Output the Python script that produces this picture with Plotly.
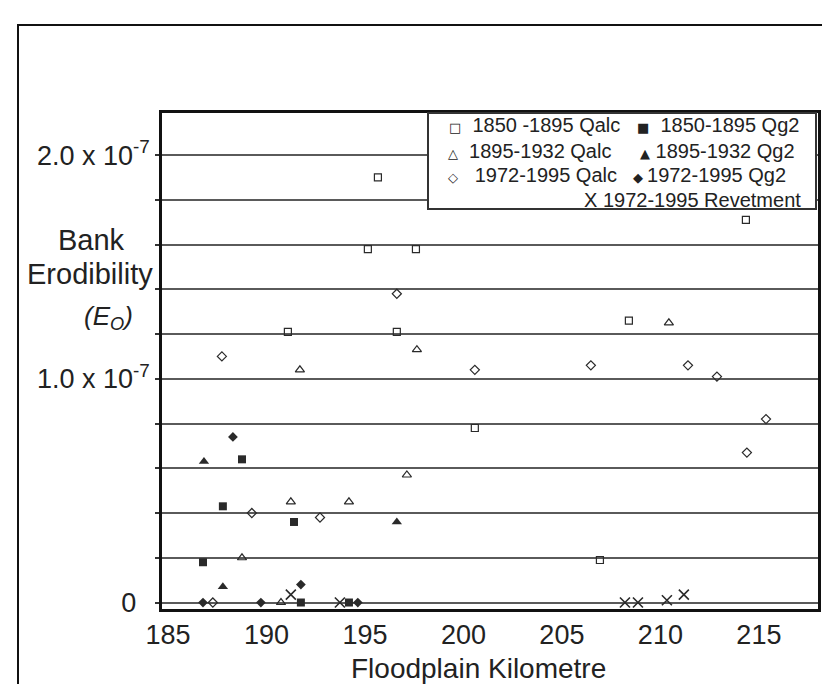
import plotly.graph_objects as go

# ---------------- data (Floodplain km, bank erodibility Eo) ----------------
km_1850_qalc = [195.66, 195.15, 197.59, 191.09, 196.62, 200.58, 206.93, 208.40, 214.34]
eo_1850_qalc = [1.90e-7, 1.58e-7, 1.58e-7, 1.21e-7, 1.21e-7, 0.78e-7, 0.19e-7, 1.26e-7, 1.71e-7]

km_1850_qg2 = [188.76, 187.79, 191.40, 186.78, 191.75, 194.19]
eo_1850_qg2 = [0.64e-7, 0.43e-7, 0.36e-7, 0.18e-7, 0.0, 0.0]

km_1895_qalc = [191.70, 197.64, 197.13, 191.24, 194.19, 188.76, 190.74, 210.43]
eo_1895_qalc = [1.04e-7, 1.13e-7, 0.57e-7, 0.45e-7, 0.45e-7, 0.20e-7, 0.0, 1.25e-7]

km_1895_qg2 = [186.83, 196.62, 187.79]
eo_1895_qg2 = [0.63e-7, 0.36e-7, 0.07e-7]

km_1972_qalc = [187.74, 196.62, 200.58, 206.47, 211.40, 212.87, 215.36, 214.39, 189.26, 192.72, 187.28]
eo_1972_qalc = [1.10e-7, 1.38e-7, 1.04e-7, 1.06e-7, 1.06e-7, 1.01e-7, 0.82e-7, 0.67e-7, 0.40e-7, 0.38e-7, 0.0]

km_1972_qg2 = [188.30, 191.75, 186.78, 189.72, 194.64]
eo_1972_qg2 = [0.74e-7, 0.08e-7, 0.0, 0.0, 0.0]

km_1972_rev = [191.24, 193.73, 208.20, 208.86, 210.33, 211.19]
eo_1972_rev = [0.035e-7, 0.0, 0.0, 0.0, 0.01e-7, 0.035e-7]

x_ticks = [185, 190, 195, 200, 205, 210, 215]
y_ticks = [0.0, 1.0e-7, 2.0e-7]
y_ticktext = ["0\u2002", "1.0 x 10<sup>-7</sup>", "2.0 x 10<sup>-7</sup>"]
y_grid_step = 0.2e-7

legend_col1 = ["1850 -1895 Qalc", "1895-1932 Qalc", "1972-1995 Qalc"]
legend_col2 = ["1850-1895 Qg2", "1895-1932 Qg2", "1972-1995 Qg2"]
legend_rev = "1972-1995 Revetment"

# ---------------- layout geometry ----------------
W, H = 830, 684
L, R, T, B = 154, 20, 105, 83
PW, PH = W - L - R, H - T - B

def xp(px):
    return (px - L) / PW

def yp(py):
    return (H - B - py) / PH

FONT = "Liberation Sans, Arial, Helvetica, sans-serif"
INK = "#222222"
MK = "#2a2a2a"
GRID = "#5a5a5a"

fig = go.Figure()

def add(xs, ys, symbol, size, lw=1.2):
    fig.add_trace(go.Scatter(
        x=xs, y=ys, mode="markers", showlegend=False, hoverinfo="x+y",
        marker=dict(symbol=symbol, size=size, color=MK,
                    line=dict(color=MK, width=lw)),
    ))

add(km_1850_qalc, eo_1850_qalc, "square-open", 7)
add(km_1850_qg2, eo_1850_qg2, "square", 8, 0)
add(km_1895_qalc, eo_1895_qalc, "triangle-up-open", 8)
add(km_1895_qg2, eo_1895_qg2, "triangle-up", 9, 0)
add(km_1972_qalc, eo_1972_qalc, "diamond-open", 7)
add(km_1972_qg2, eo_1972_qg2, "diamond", 7.5, 0)
add(km_1972_rev, eo_1972_rev, "x-thin-open", 10, 1.6)

fig.update_xaxes(
    range=[184.7, 218.0], tickvals=x_ticks, ticks="", showgrid=False,
    zeroline=False, showline=True, mirror=True, linecolor="#111", linewidth=2.5,
    tickfont=dict(family=FONT, size=27, color=INK),
)
fig.update_yaxes(
    range=[-0.029e-7, 2.188e-7], tickvals=y_ticks, ticktext=y_ticktext,
    ticks="outside", ticklen=4, tickwidth=1.5, tickcolor="#333",
    showgrid=True, gridcolor=GRID, gridwidth=1.6,
    minor=dict(tick0=0, dtick=y_grid_step, showgrid=True, gridcolor=GRID,
               gridwidth=1.6, ticks="outside", ticklen=4, tickwidth=1.5,
               tickcolor="#333"),
    zeroline=True, zerolinecolor="rgba(0,0,0,0)",
    showline=True, mirror=True, linecolor="#111", linewidth=2.5,
    tickfont=dict(family=FONT, size=27, color=INK),
)

shapes = []
# legend box
shapes.append(dict(type="rect", xref="paper", yref="paper", layer="above",
                   x0=xp(420), x1=xp(808), y0=yp(201), y1=yp(105),
                   fillcolor="white", line=dict(color="#333", width=2)))
# outer picture frame
shapes.append(dict(type="path", xref="paper", yref="paper", layer="above",
                   path=f"M {xp(10)},{yp(684)} L {xp(10)},{yp(17)} L {xp(830)},{yp(17)}",
                   line=dict(color="#111", width=2)))

ann = []
def text(s, px, py, size, anchor="center"):
    ann.append(dict(text=s, x=xp(px), y=yp(py), xref="paper", yref="paper",
                    xanchor=anchor, yanchor="middle", showarrow=False,
                    font=dict(family=FONT, size=size, color=INK)))

# axis titles
text("Floodplain Kilometre", 470, 660, 28)
text("Bank", 83, 232, 29)
text("Erodibility", 82, 266, 29)
text("<i>(E<sub>O</sub>)</i>", 100, 309, 26)

# legend entries (symbol glyph + label in one text)
def sym(ch):
    return f"<span style='font-family:DejaVu Sans;font-size:13px'>{ch}</span>"

NB = "\u00a0"
rows = [117, 143, 167]
sym1 = ["\u25a1", "\u25b3", "\u25c7"]
sym2 = ["\u25a0", "\u25b2", "\u25c6"]
left1 = [439, 438, 438]
left2 = [627, 630, 623]
gap1 = [NB * 2, NB * 2, NB * 3]
gap2 = [NB * 2, NB, "\u2009"]
for i in range(3):
    text(sym(sym1[i]) + gap1[i] + legend_col1[i], left1[i], rows[i], 20, anchor="left")
    text(sym(sym2[i]) + gap2[i] + legend_col2[i], left2[i], rows[i], 20, anchor="left")
text("X " + legend_rev, 795, 192, 20, anchor="right")

fig.update_layout(
    width=W, height=H, margin=dict(l=L, r=R, t=T, b=B, pad=0),
    paper_bgcolor="white", plot_bgcolor="white",
    shapes=shapes, annotations=ann,
)

fig.write_html("out.html")
